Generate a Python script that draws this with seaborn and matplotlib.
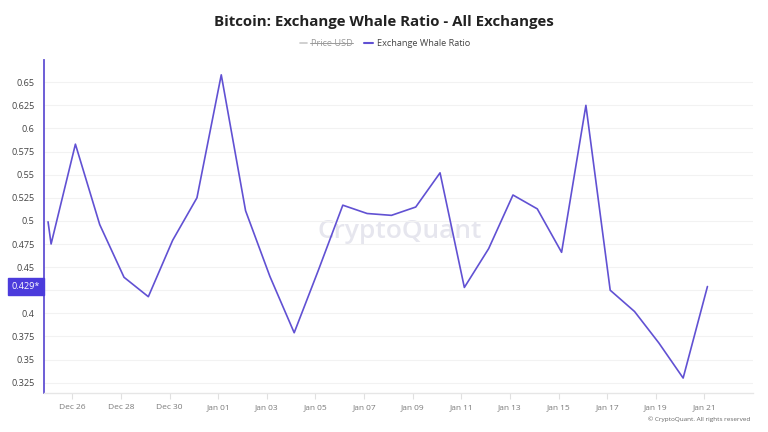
import pandas as pd
import matplotlib
matplotlib.use("Agg")
import matplotlib.pyplot as plt
import matplotlib.dates as mdates
from matplotlib.lines import Line2D
import seaborn as sns

# data
dates = ["2023-12-25 00:00", "2023-12-25 03:00", "2023-12-26 03:00", "2023-12-27 03:00",
         "2023-12-28 03:00", "2023-12-29 03:00", "2023-12-30 03:00", "2023-12-31 03:00",
         "2024-01-01 03:00", "2024-01-02 03:00", "2024-01-03 03:00", "2024-01-04 03:00",
         "2024-01-05 03:00", "2024-01-06 03:00", "2024-01-07 03:00", "2024-01-08 03:00",
         "2024-01-09 03:00", "2024-01-10 03:00", "2024-01-11 03:00", "2024-01-12 03:00",
         "2024-01-13 03:00", "2024-01-14 03:00", "2024-01-15 03:00", "2024-01-16 03:00",
         "2024-01-17 03:00", "2024-01-18 03:00", "2024-01-19 03:00", "2024-01-20 03:00",
         "2024-01-21 03:00"]
whale_ratio = [0.499, 0.475, 0.583, 0.496, 0.439, 0.418, 0.479, 0.525,
               0.658, 0.511, 0.440, 0.379, 0.447, 0.517, 0.508, 0.506,
               0.515, 0.552, 0.428, 0.470, 0.528, 0.513, 0.466, 0.625,
               0.425, 0.402, 0.368, 0.330, 0.429]
y_ticks = [0.325, 0.35, 0.375, 0.4, 0.425, 0.45, 0.475, 0.5, 0.525, 0.55,
           0.575, 0.6, 0.625, 0.65]
y_tick_labels = ["0.325", "0.35", "0.375", "0.4", "", "0.45", "0.475", "0.5",
                 "0.525", "0.55", "0.575", "0.6", "0.625", "0.65"]
last_label = "0.429*"

df = pd.DataFrame({"date": pd.to_datetime(dates), "ratio": whale_ratio})

sns.set_theme(style="white")
plt.rcParams["font.family"] = ["Open Sans", "DejaVu Sans"]

purple = "#6151d3"
fig = plt.figure(figsize=(7.68, 4.32), dpi=100)
ax = fig.add_axes([0.0573, 0.0896, 0.9232, 0.7714])

sns.lineplot(data=df, x="date", y="ratio", ax=ax, color=purple, linewidth=1.2)

ax.set_xlim(pd.Timestamp("2023-12-24 20:00"), pd.Timestamp("2024-01-23 00:00"))
ax.set_ylim(0.3135, 0.674)
ax.set_yticks(y_ticks)
ax.set_yticklabels(y_tick_labels)
ax.yaxis.grid(True, color="#f2f2f2", linewidth=0.8)
ax.xaxis.grid(False)

x_ticks = pd.date_range("2023-12-26", "2024-01-21", freq="2D")
ax.set_xticks(x_ticks)
ax.xaxis.set_major_formatter(mdates.DateFormatter("%b %d"))
ax.tick_params(axis="x", colors="#e0e0e0", labelcolor="#7a7a7a", labelsize=6,
               length=4, width=0.8, direction="out", bottom=True, pad=4)
ax.tick_params(axis="y", labelcolor="#444444", labelsize=6.6, length=0, pad=7)
ax.set_xlabel("")
ax.set_ylabel("")

for s in ["top", "right"]:
    ax.spines[s].set_visible(False)
ax.spines["left"].set_color(purple)
ax.spines["left"].set_linewidth(1.3)
ax.spines["bottom"].set_color("#e6e6e6")
ax.spines["bottom"].set_linewidth(1.0)

# last value badge on the y axis
ax.annotate(last_label, xy=(0, whale_ratio[-1]), xycoords=("axes fraction", "data"),
            xytext=(-3, 0), textcoords="offset points", ha="right", va="center",
            fontsize=6.6, color="white",
            bbox=dict(boxstyle="square,pad=0.4", fc="#4b3bdc", ec="#4b3bdc"))

# watermark
ax.text(0.502, 0.485, "CryptoQuant", transform=ax.transAxes, ha="center", va="center",
        fontsize=19, color="#e6e6ee", fontweight="semibold", zorder=0)

fig.text(0.5, 0.949, "Bitcoin: Exchange Whale Ratio - All Exchanges", ha="center",
         va="center", fontsize=10.8, fontweight="bold", color="#222222")

# legend drawn by hand
ly = 1 - 43 / 432
fig.lines.append(Line2D([300 / 768, 307 / 768], [ly, ly], transform=fig.transFigure,
                        color="#c8c8c8", linewidth=1.2))
fig.text(311 / 768, ly, "Price USD", ha="left", va="center", fontsize=6.6, color="#9a9a9a")
fig.lines.append(Line2D([310 / 768, 353 / 768], [ly, ly], transform=fig.transFigure,
                        color="#9a9a9a", linewidth=0.7))
fig.lines.append(Line2D([364 / 768, 373 / 768], [ly, ly], transform=fig.transFigure,
                        color=purple, linewidth=1.5))
fig.text(377 / 768, ly, "Exchange Whale Ratio", ha="left", va="center", fontsize=6.6,
         color="#444444")

fig.text(0.977, 1 - 419 / 432, "© CryptoQuant. All rights reserved", ha="right",
         va="center", fontsize=4.6, color="#666666")

fig.savefig("out.png", dpi=100)
